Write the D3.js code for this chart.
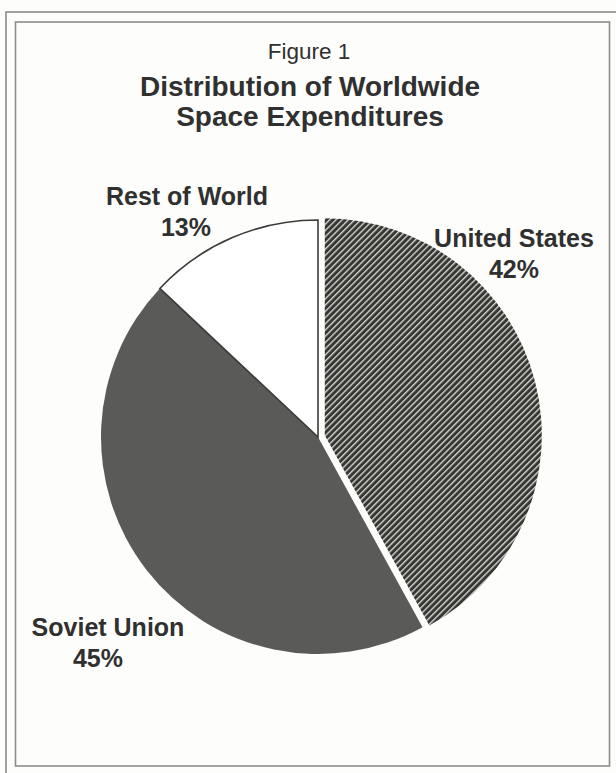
<!DOCTYPE html>
<html>
<head>
<meta charset="utf-8">
<script src="https://cdn.jsdelivr.net/npm/d3@7"></script>
<style>
  html, body { margin: 0; padding: 0; background: #fdfdfb; }
  svg { display: block; }
  text { font-family: "Liberation Sans", Arial, Helvetica, sans-serif; fill: #303030; }
</style>
</head>
<body>
<svg id="chart" width="616" height="773"></svg>
<script>
// Share of worldwide space spending, clockwise from 12 o'clock
const categories = ["United States", "Soviet Union", "Rest of World"];
const shares = [42, 45, 13];
const shareLabels = ["42%", "45%", "13%"];
const titleLines = ["Distribution of Worldwide", "Space Expenditures"];
const figureLabel = "Figure 1";

const svg = d3.select("#chart");

// Double frame
svg.append("rect").attr("x", 6).attr("y", 12).attr("width", 640).attr("height", 800)
  .attr("fill", "none").attr("stroke", "#8c8c8a").attr("stroke-width", 1.6);
svg.append("rect").attr("x", 15.5).attr("y", 22).attr("width", 594).attr("height", 744)
  .attr("fill", "none").attr("stroke", "#8c8c8a").attr("stroke-width", 1.6);

// Titles
svg.append("text").attr("x", 309).attr("y", 59).attr("text-anchor", "middle")
  .attr("font-size", 22.5).text(figureLabel);
svg.selectAll("text.title").data(titleLines).join("text").attr("class", "title")
  .attr("x", 310).attr("y", (d, i) => 96 + i * 30).attr("text-anchor", "middle")
  .attr("font-size", 28).attr("font-weight", "bold").text(d => d);

// Diagonal hatch used for the United States slice
const defs = svg.append("defs");
const pat = defs.append("pattern").attr("id", "hatch").attr("patternUnits", "userSpaceOnUse")
  .attr("width", 4.4).attr("height", 4.4).attr("patternTransform", "rotate(-45)");
pat.append("rect").attr("width", 4.4).attr("height", 4.4).attr("fill", "#363634");
pat.append("rect").attr("x", 0).attr("y", 0).attr("width", 4.4).attr("height", 1.4).attr("fill", "#d4d4cc");

const cx = 318, cy = 437, r = 217;
const pie = d3.pie().sort(null).value(d => d)(shares);
const arc = d3.arc().innerRadius(0).outerRadius(r);

const fills = ["url(#hatch)", "#5a5a58", "#ffffff"];
const strokes = ["none", "none", "#3a3a38"];
const explode = [7, 0, 0];

const g = svg.append("g").attr("transform", `translate(${cx},${cy})`);
g.selectAll("path").data(pie).join("path")
  .attr("d", arc)
  .attr("transform", (d, i) => {
    const a = (d.startAngle + d.endAngle) / 2;
    return `translate(${Math.sin(a) * explode[i]},${-Math.cos(a) * explode[i]})`;
  })
  .attr("fill", (d, i) => fills[i])
  .attr("stroke", (d, i) => strokes[i])
  .attr("stroke-width", 1.6);

// Slice labels: name line and percentage line
const namePos = [[514, 247], [108, 636], [187, 205]];
const pctPos = [[514, 278], [98, 667], [186, 236]];
categories.forEach((c, i) => {
  const t = svg.append("text").attr("text-anchor", "middle")
    .attr("font-size", 25).attr("font-weight", "bold");
  t.append("tspan").attr("x", namePos[i][0]).attr("y", namePos[i][1]).text(c);
  t.append("tspan").attr("x", pctPos[i][0]).attr("y", pctPos[i][1]).text(shareLabels[i]);
});
</script>
</body>
</html>
